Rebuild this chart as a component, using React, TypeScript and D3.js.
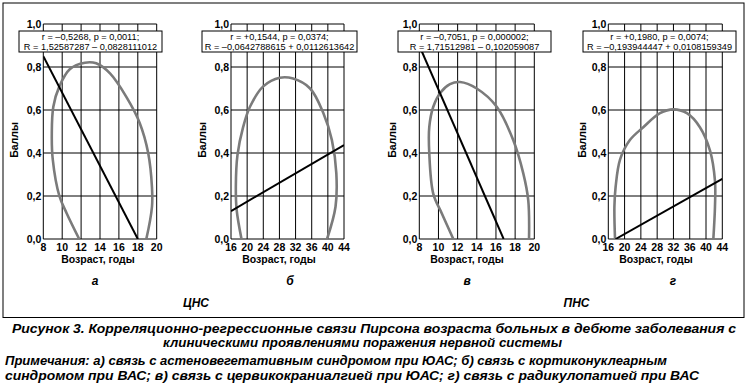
import React from "react";
import * as d3 from "d3";

// ellipse outlines: [age, score]
const ellipseA: [number, number][] = [
  [11.8, 0], [10.47, 0.12], [9.7, 0.2], [9.0, 0.37], [8.9, 0.49], [9.06, 0.615], [9.7, 0.71],
  [10.8, 0.79], [12.4, 0.82], [13.6, 0.817], [15.06, 0.77], [16.8, 0.66], [18.2, 0.54],
  [19.1, 0.4], [19.5, 0.24], [19.5, 0.15], [18.9, 0],
];
const ellipseB: [number, number][] = [
  [18.6, 0], [17.4, 0.135], [17.2, 0.243], [17.6, 0.39], [19.0, 0.52], [20.7, 0.615], [24.0, 0.71],
  [28.1, 0.75], [31.4, 0.746], [35.6, 0.7], [38.9, 0.585], [41.0, 0.46], [42.1, 0.305],
  [41.9, 0.15], [39.8, 0],
];
const ellipseC: [number, number][] = [
  [11.55, 0], [10.34, 0.12], [9.46, 0.21], [9.04, 0.4], [9.04, 0.52], [9.46, 0.615], [10.2, 0.68],
  [11.2, 0.72], [12.25, 0.73], [13.99, 0.7], [16.08, 0.615], [17.8, 0.46], [18.85, 0.305],
  [19.37, 0.18], [19.45, 0],
];
const ellipseD: [number, number][] = [
  [17.65, 0], [17.5, 0.15], [17.8, 0.243], [18.9, 0.37], [21.3, 0.46], [24.6, 0.52], [28.7, 0.585],
  [32.0, 0.603], [35.3, 0.585], [38.5, 0.52], [41.0, 0.41], [42.2, 0.27], [42.2, 0.15], [41.8, 0],
];

// regression line end points
const lineA: [number, number][] = [[8, 0.85], [18, 0]];
const lineB: [number, number][] = [[16, 0.13], [44, 0.437]];
const lineC: [number, number][] = [[8, 0.899], [16.8, 0]];
const lineD: [number, number][] = [[17.8, 0], [44, 0.28]];

const ticksYoung = [8, 10, 12, 14, 16, 18, 20];
const ticksAdult = [16, 20, 24, 28, 32, 36, 40, 44];
const yTicks = [0, 0.2, 0.4, 0.6, 0.8, 1.0];

const statsA = ["r = –0,5268, p = 0,0011;", "R = 1,52587287 – 0,0828111012"];
const statsB = ["r = +0,1544, p = 0,0374;", "R = –0,0642788615 + 0,0112613642"];
const statsC = ["r = –0,7051, p = 0,000002;", "R = 1,71512981 – 0,102059087"];
const statsD = ["r = +0,1980, p = 0,0074;", "R = –0,193944447 + 0,0108159349"];

const letters = ["а", "б", "в", "г"];
const groupLabels = ["ЦНС", "ПНС"];
const caption = [
  "Рисунок 3. Корреляционно-регрессионные связи Пирсона возраста больных в дебюте заболевания с",
  "клиническими проявлениями поражения нервной системы",
];
const notes = [
  "Примечания: а) связь с астеновегетативным синдромом при ЮАС; б) связь с кортиконуклеарным",
  "синдромом при ВАС; в) связь с цервикокраниалгией при ЮАС; г) связь с радикулопатией при ВАС",
];

const FONT = "'Liberation Sans', Arial, sans-serif";
const NARROW = "'Liberation Sans Narrow', 'Liberation Sans', Arial, sans-serif";

const panels = [
  { ticks: ticksYoung, ellipse: ellipseA, line: lineA, stats: statsA, x0: 43.3, x1: 156.7, bx: [19, 162], yl: 14, tl: 98, lx: 95 },
  { ticks: ticksAdult, ellipse: ellipseB, line: lineB, stats: statsB, x0: 231, x1: 344, bx: [202, 357], yl: 202, tl: 279, lx: 290 },
  { ticks: ticksYoung, ellipse: ellipseC, line: lineC, stats: statsC, x0: 419.3, x1: 534.3, bx: [398, 551], yl: 392, tl: 467, lx: 467 },
  { ticks: ticksAdult, ellipse: ellipseD, line: lineD, stats: statsD, x0: 608.3, x1: 722.3, bx: [583, 736], yl: 582, tl: 656, lx: 673 },
];

const Panel = ({ p, letter, idx }: any) => {
  const x = d3.scaleLinear().domain(d3.extent(p.ticks) as [number, number]).range([p.x0, p.x1]);
  const y = d3.scaleLinear().domain([0, 1]).range([239, 24]);
  const ell = d3.line<[number, number]>().x(d => x(d[0])).y(d => y(d[1])).curve(d3.curveCatmullRom);
  const clipId = "clip" + idx;
  return (
    <g>
      <clipPath id={clipId}>
        <rect x={p.x0} y={24} width={p.x1 - p.x0} height={215} />
      </clipPath>
      {p.ticks.map((t: number) => (
        <line key={"v" + t} x1={x(t)} x2={x(t)} y1={24} y2={239} stroke="#000" strokeWidth={1} />
      ))}
      {yTicks.map(t => (
        <line key={"h" + t} x1={p.x0} x2={p.x1} y1={y(t)} y2={y(t)} stroke="#000" strokeWidth={1} />
      ))}
      <g clipPath={`url(#${clipId})`}>
        <path d={ell(p.ellipse) || ""} fill="none" stroke="#7b7b7b" strokeWidth={2.6} />
        <line x1={x(p.line[0][0])} y1={y(p.line[0][1])} x2={x(p.line[1][0])} y2={y(p.line[1][1])}
          stroke="#000" strokeWidth={2} />
      </g>
      <rect x={p.bx[0]} y={31} width={p.bx[1] - p.bx[0]} height={21} fill="#fff" stroke="#000" strokeWidth={1} />
      {p.stats.map((s: string, i: number) => (
        <text key={s} x={(p.bx[0] + p.bx[1]) / 2} y={40 + i * 10} textAnchor="middle" fontFamily={FONT}
          fontSize={9.2}>{s}</text>
      ))}
      {yTicks.map(t => (
        <text key={"yl" + t} x={p.x0 - 2} y={y(t) + 3.5} textAnchor="end" fontFamily={FONT} fontWeight="bold"
          fontSize={10.5}>{d3.format(".1f")(t).replace(".", ",")}</text>
      ))}
      {p.ticks.map((t: number) => (
        <text key={"xl" + t} x={x(t)} y={251} textAnchor="middle" fontFamily={FONT} fontWeight="bold"
          fontSize={10.5}>{t}</text>
      ))}
      <text x={p.tl} y={263} textAnchor="middle" fontFamily={FONT} fontWeight="bold" fontSize={10.5}>
        Возраст, годы
      </text>
      <text transform={`translate(${p.yl + 3.5},140) rotate(-90)`} textAnchor="middle" fontFamily={FONT}
        fontWeight="bold" fontSize={10.5}>Баллы</text>
      <text x={p.lx} y={285} textAnchor="middle" fontFamily={FONT} fontWeight="bold" fontStyle="italic"
        fontSize={12}>{letter}</text>
    </g>
  );
};

export default function App() {
  return (
    <svg width={749} height={390} style={{ position: "absolute", left: 0, top: 0, background: "#fff" }}>
      <rect x={3} y={3} width={741} height={314.5} fill="none" stroke="#000" strokeWidth={1} />
      {panels.map((p, i) => (
        <Panel key={i} p={p} letter={letters[i]} idx={i} />
      ))}
      <text x={196} y={306.5} textAnchor="middle" fontFamily={FONT} fontWeight="bold" fontStyle="italic"
        fontSize={12}>{groupLabels[0]}</text>
      <text x={576.5} y={306.5} textAnchor="middle" fontFamily={FONT} fontWeight="bold" fontStyle="italic"
        fontSize={12}>{groupLabels[1]}</text>
      <text x={12} y={333} fontFamily={NARROW} fontWeight="bold" fontStyle="italic" fontSize={13}
        textLength={724} lengthAdjust="spacingAndGlyphs">{caption[0]}</text>
      <text x={163} y={346.5} fontFamily={NARROW} fontWeight="bold" fontStyle="italic" fontSize={13}
        textLength={399} lengthAdjust="spacingAndGlyphs">{caption[1]}</text>
      <text x={5} y={365} fontFamily={NARROW} fontWeight="bold" fontStyle="italic" fontSize={13}
        textLength={662} lengthAdjust="spacingAndGlyphs">{notes[0]}</text>
      <text x={5} y={380} fontFamily={NARROW} fontWeight="bold" fontStyle="italic" fontSize={13}
        textLength={694} lengthAdjust="spacingAndGlyphs">{notes[1]}</text>
    </svg>
  );
}
